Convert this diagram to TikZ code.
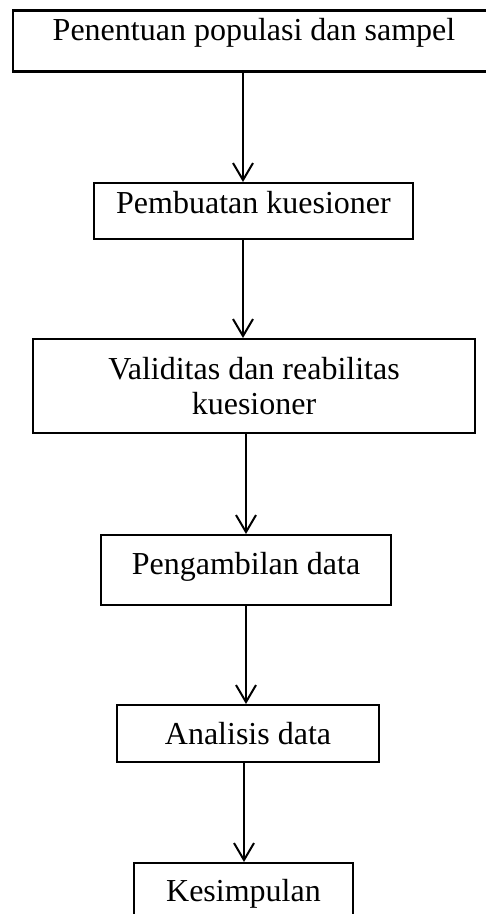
\documentclass[tikz,border=0pt]{standalone}
\usepackage{fontspec}
\setmainfont{Liberation Serif}
\usepackage{tikz}
\usetikzlibrary{positioning, arrows.meta, calc}

\tikzset{
  stepbox/.style={draw, line width=1pt, rectangle, anchor=north, inner xsep=0pt, inner ysep=0pt,
    font=\fontsize{16}{17.5}\selectfont, align=center},
  flow/.style={line width=1pt, -{Straight Barb[length=8.5pt, width=10pt, line width=1pt]}}
}

\begin{document}
\begin{tikzpicture}[x=0.5pt, y=-0.5pt]
    \useasboundingbox (0,0) rectangle (486,914);

    % boxes, top to bottom
    \node[stepbox, line width=1.3pt, minimum width=241pt, text height=15pt, text depth=15.5pt]
      (populasi) at (254,9) {Penentuan populasi dan sampel};
    \node[stepbox, minimum width=159.5pt, text height=15.5pt, text depth=12.5pt]
      (kuesioner) at (253.5,182) {Pembuatan kuesioner};
    \node[stepbox, minimum width=221pt, minimum height=47pt, anchor=center]
      (validitas) at (254,386) {Validitas dan reabilitas\\kuesioner};
    \node[stepbox, minimum width=145pt, text height=19.5pt, text depth=15.5pt]
      (pengambilan) at (246,534) {Pengambilan data};
    \node[stepbox, minimum width=131pt, text height=19.5pt, text depth=9pt]
      (analisis) at (248,704) {Analisis data};
    \node[stepbox, minimum width=109.5pt, text height=19pt, text depth=15pt]
      (kesimpulan) at (243.5,862) {Kesimpulan};

    % arrows
    \coordinate (a1) at (243,0);
    \coordinate (a2) at (246,0);
    \coordinate (a3) at (244,0);
    \draw[flow] (populasi.south -| a1) -- (kuesioner.north -| a1);
    \draw[flow] (kuesioner.south -| a1) -- (validitas.north -| a1);
    \draw[flow] (validitas.south -| a2) -- (pengambilan.north -| a2);
    \draw[flow] (pengambilan.south -| a2) -- (analisis.north -| a2);
    \draw[flow] (analisis.south -| a3) -- (kesimpulan.north -| a3);
  \end{tikzpicture}
\end{document}
